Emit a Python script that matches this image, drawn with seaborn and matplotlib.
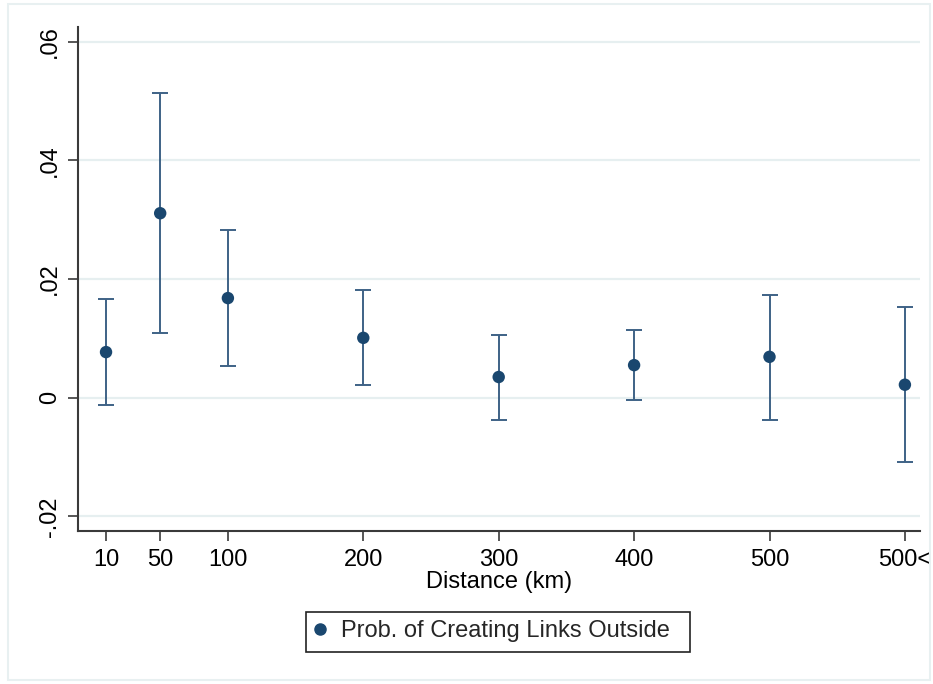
import matplotlib
matplotlib.use("Agg")
import matplotlib.pyplot as plt
import seaborn as sns
import pandas as pd
import numpy as np
from matplotlib.patches import Rectangle

# Data
distance_pos = [10, 50, 100, 200, 300, 400, 500, 600]
tick_labels = ["10", "50", "100", "200", "300", "400", "500", "500<"]
estimate = [0.0077, 0.0311, 0.0168, 0.0101, 0.0035, 0.0055, 0.0069, 0.0022]
ci_upper = [0.0166, 0.0513, 0.0283, 0.0182, 0.0106, 0.0114, 0.0174, 0.0153]
ci_lower = [-0.0012, 0.0109, 0.0053, 0.0021, -0.0037, -0.0004, -0.0037, -0.0108]
y_ticks = [-0.02, 0, 0.02, 0.04, 0.06]
y_tick_labels = ["-.02", "0", ".02", ".04", ".06"]

df = pd.DataFrame({"Distance": distance_pos, "Estimate": estimate,
                   "Upper": ci_upper, "Lower": ci_lower})

sns.set_theme(style="white")
plt.rcParams["font.family"] = ["Liberation Sans", "DejaVu Sans"]

navy = "#1a476f"
bar_col = "#3e6286"
grid_col = "#e6eff0"
axis_col = "#3a3a3a"

fig = plt.figure(figsize=(9.33, 6.84), dpi=100)
ax = fig.add_axes([0.0836, 0.2230, 0.9024, 0.7375])

# outer graph-region frame
fig.patches.append(Rectangle((8 / 933, 4 / 684), 922 / 933, 676 / 684,
                             transform=fig.transFigure, fill=False,
                             edgecolor="#e8f0f1", linewidth=1.5, zorder=0))

for yt in y_ticks:
    ax.axhline(yt, color=grid_col, linewidth=1.6, zorder=0)

yerr = np.vstack([df["Estimate"] - df["Lower"], df["Upper"] - df["Estimate"]])
ax.errorbar(df["Distance"], df["Estimate"], yerr=yerr, fmt="none",
            ecolor=bar_col, elinewidth=1.4, capsize=5.5, capthick=1.4, zorder=2)
sns.scatterplot(data=df, x="Distance", y="Estimate", ax=ax, color=navy,
                s=80, edgecolor="none", zorder=3,
                label="Prob. of Creating Links Outside", legend=False)

ax.set_xlim(-10.7, 611.1)
ax.set_ylim(-0.02253, 0.06248)

ax.set_xticks(distance_pos)
ax.set_xticklabels(tick_labels)
ax.set_yticks(y_ticks)
ax.set_yticklabels(y_tick_labels, rotation=90, va="center")

ax.tick_params(axis="both", which="major", length=7.5, width=1.2,
               color=axis_col, labelsize=17, labelcolor="black", pad=5,
               bottom=True, left=True)

for side in ["top", "right"]:
    ax.spines[side].set_visible(False)
for side in ["left", "bottom"]:
    ax.spines[side].set_color(axis_col)
    ax.spines[side].set_linewidth(1.5)

ax.set_xlabel("Distance (km)", fontsize=17, color="black", labelpad=0)
ax.set_ylabel("")

# legend box (drawn as a frame) and legend contents
fig.patches.append(Rectangle((306 / 933, 1 - 652 / 684), 384 / 933, 40 / 684,
                             transform=fig.transFigure, fill=True,
                             facecolor="white", edgecolor="#222222",
                             linewidth=1.2, zorder=1))
handle = plt.Line2D([], [], marker="o", linestyle="none", color=navy,
                    markersize=8)
leg = fig.legend([handle], ["Prob. of Creating Links Outside"],
                 loc="center left", bbox_to_anchor=(308.5 / 933, 1 - 631.5 / 684),
                 fontsize=17, frameon=False, handletextpad=0.38,
                 handlelength=1.0, borderpad=0, borderaxespad=0)

fig.savefig("out.png", dpi=100, facecolor="white")
